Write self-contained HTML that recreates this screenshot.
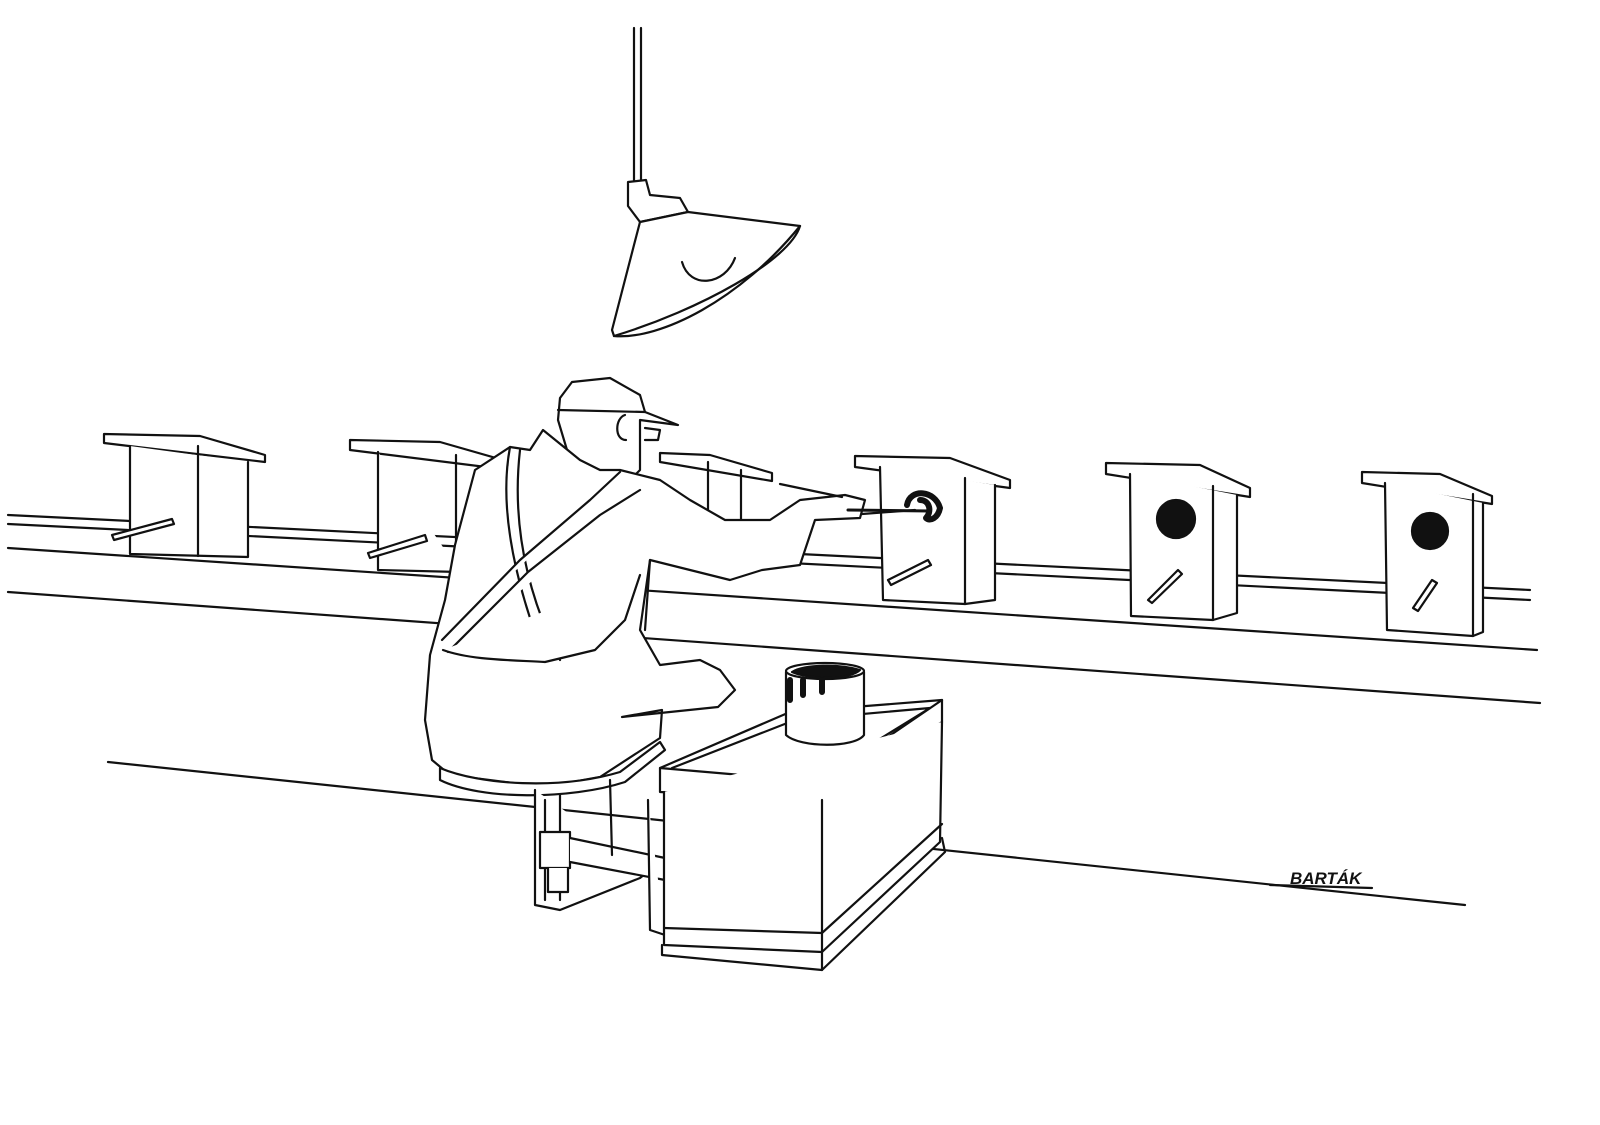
<!DOCTYPE html>
<html><head><meta charset="utf-8"><style>html,body{margin:0;padding:0;background:#fff}svg{display:block}</style></head>
<body>
<svg width="1600" height="1125" viewBox="0 0 1600 1125" xmlns="http://www.w3.org/2000/svg" fill="none" stroke="#111" stroke-width="2.2" stroke-linejoin="round" stroke-linecap="round">
<rect width="1600" height="1125" fill="#fff" stroke="none"/>
<!-- lamp -->
<line x1="634" y1="28" x2="634" y2="182"/><line x1="641" y1="28" x2="641" y2="182"/>
<path d="M628 182 L646 180 L650 195 L680 198 L688 212 L640 222 L628 206 Z" fill="#fff"/>
<path d="M640 222 L688 212 L800 226 C790 260 700 310 614 336 L612 330 C620 300 630 260 640 222 Z" fill="#fff"/>
<path d="M614 336 C660 340 740 300 800 226"/>
<path d="M682 262 C690 290 725 285 735 258"/>
<!-- conveyor -->
<path d="M8 515 L1530 590"/><path d="M8 524 L1530 600"/>
<path d="M8 548 L1537 650"/><path d="M8 592 L1540 703"/>
<path d="M108 762 L1465 905"/>
<!-- birdhouses -->
<g fill="#fff">
<path d="M104 434 L200 436 L265 455 L265 462 L104 443 Z"/><path d="M130 446 L130 554 L248 557 L248 462"/><line x1="198" y1="446" x2="198" y2="556"/>
<path d="M112 535 L172 519 L174 524 L114 540 Z"/>
<path d="M350 440 L440 442 L510 462 L510 470 L350 450 Z"/><path d="M378 452 L378 570 L460 572"/><line x1="456" y1="455" x2="456" y2="572"/>
<path d="M368 553 L425 535 L427 541 L370 558 Z"/>
<path d="M660 453 L710 455 L772 473 L772 481 L660 462 Z"/><path d="M708 462 L708 530"/><path d="M741 470 L741 530"/>
<path d="M855 456 L950 458 L1010 480 L1010 488 L855 467 Z"/><path d="M880 467 L883 600 L965 604 L995 600 L995 485"/><line x1="965" y1="478" x2="965" y2="604"/>
<path d="M888 580 L928 560 L931 565 L891 585 Z"/>
<path d="M1106 463 L1200 465 L1250 488 L1250 497 L1106 474 Z"/><path d="M1130 474 L1131 616 L1213 620 L1237 613 L1237 495"/><line x1="1213" y1="486" x2="1213" y2="620"/>
<path d="M1148 600 L1178 570 L1182 574 L1152 603 Z"/>
<path d="M1362 472 L1440 474 L1492 496 L1492 504 L1362 483 Z"/><path d="M1385 483 L1387 630 L1473 636 L1483 632 L1483 503"/><line x1="1473" y1="494" x2="1473" y2="636"/>
<path d="M1413 608 L1432 580 L1437 583 L1418 611 Z"/>
</g>
<circle cx="1176" cy="519" r="19" fill="#111"/><circle cx="1430" cy="531" r="18" fill="#111"/>
<path d="M907 505 C910 488 935 490 940 508 C938 518 930 522 926 518 C932 512 930 500 920 500" stroke-width="6"/>
<!-- man -->
<g fill="#fff">
<path d="M560 398 L572 382 L610 378 L640 395 L645 412 L678 425 L640 420 L640 470 L630 480 L600 470 L570 460 L558 420 Z"/>
<path d="M558 410 L645 412"/><path d="M625 415 C615 418 614 440 626 440"/><path d="M645 428 L660 430 L658 440 L645 440"/>
<path d="M543 430 L530 450 L510 447 L475 470 L455 545 L445 600 L430 655 L425 720 L432 760 L450 775 L545 787 L600 777 L660 738 L662 710 L622 717 L718 707 L735 690 L720 670 L700 660 L660 665 L640 630 L650 560 L730 580 L762 570 L800 565 L815 520 L860 518 L865 500 L845 495 L800 500 L770 520 L725 520 L690 500 L660 480 L620 470 L600 470 L580 460 Z"/>
<path d="M510 447 C500 500 510 570 545 660"/><path d="M520 450 C512 520 525 590 560 660"/>
<path d="M442 640 L520 560 L590 500 L620 472"/><path d="M448 652 L528 572 L600 515 L640 490"/>
<path d="M443 650 C470 660 510 660 545 662 L595 650 L625 620 L640 575"/>
<path d="M650 560 L645 630"/><path d="M862 514 L915 510"/><path d="M780 484 L842 497"/><path d="M848 510 L930 511" stroke-width="3"/>
<!-- stool -->
<path d="M440 768 C480 785 560 790 620 772 L660 742 L665 750 L625 782 C570 800 480 800 440 780 Z"/>
<path d="M535 790 L535 905 L560 910 L640 878 L650 870"/>
<path d="M545 800 L545 900"/><path d="M560 795 L560 900"/>
<path d="M540 832 L570 832 L570 868 L540 868 Z"/><path d="M548 868 L548 892 L568 892 L568 868"/>
<path d="M570 838 L665 858 L665 880 L570 862"/>
<path d="M610 780 L612 855"/><path d="M648 800 L650 930 L665 935"/>
</g>
<!-- box -->
<path d="M660 768 L790 712 L942 700 L942 722 L822 800 L660 792 Z" fill="#fff"/>
<path d="M660 768 L822 782 L942 700"/><path d="M822 782 L822 800"/>
<path d="M672 768 L795 720 L930 708 L820 776"/>
<path d="M664 792 L664 945 L822 952 L940 842 L942 722" fill="#fff"/>
<line x1="822" y1="800" x2="822" y2="970"/>
<path d="M664 928 L822 933 L942 824"/><path d="M662 945 L662 955 L822 970 L945 852 L942 838"/>
<!-- can -->
<path d="M786 672 L786 735 C800 748 855 748 864 735 L864 672" fill="#fff"/>
<ellipse cx="825" cy="671" rx="39" ry="8" fill="#fff"/>
<path d="M792 672 C810 680 850 680 860 670 C840 664 805 664 792 672 Z" fill="#111"/>
<path d="M790 680 L790 700 M803 680 L803 695 M822 680 L822 692" stroke-width="6"/>
<text x="1290" y="884" font-family="Liberation Sans, sans-serif" font-style="italic" font-weight="bold" font-size="17" fill="#111" stroke="none">BARTÁK</text>
<path d="M1270 885 L1372 888"/>
</svg>
</body></html>
